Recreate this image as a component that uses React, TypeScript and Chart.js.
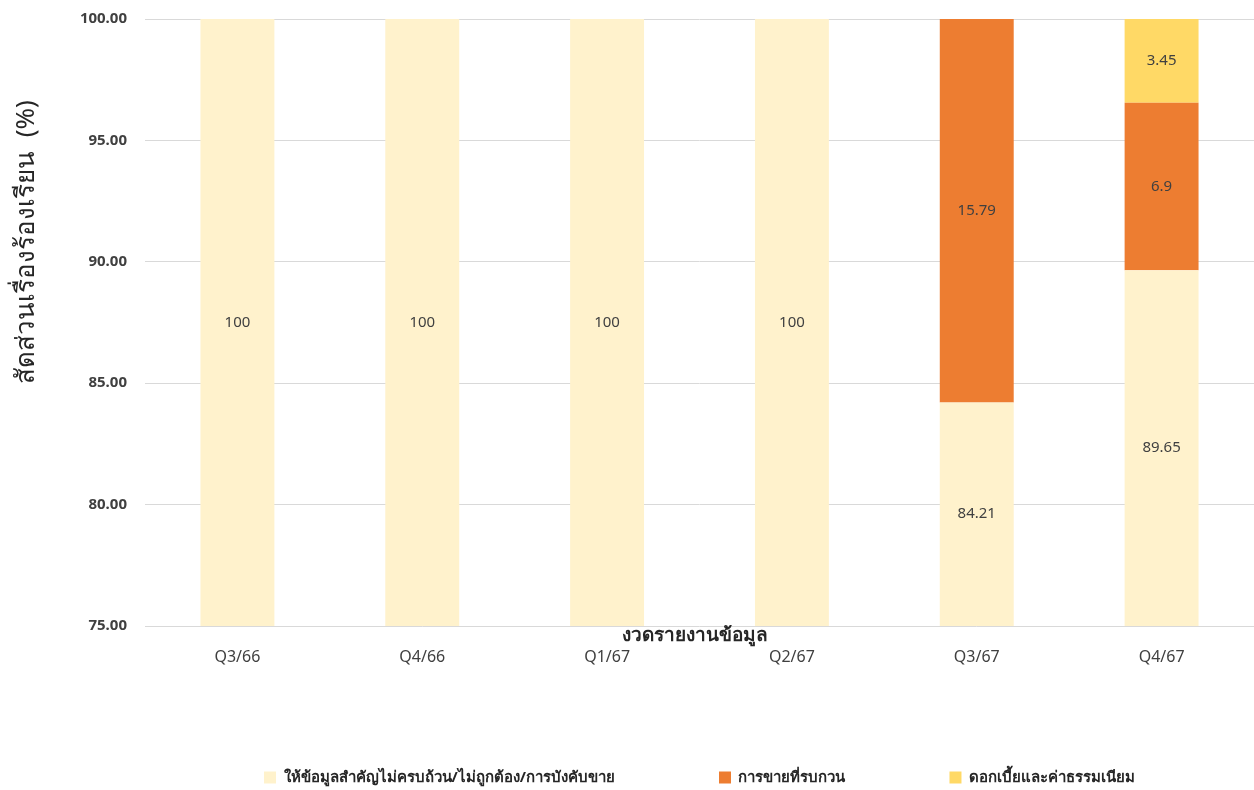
import React, { useEffect, useRef } from "react";
import { Chart, registerables } from "chart.js";
Chart.register(...registerables);

const categories = ["Q3/66", "Q4/66", "Q1/67", "Q2/67", "Q3/67", "Q4/67"];
const seriesNames = [
  "ให้ข้อมูลสำคัญไม่ครบถ้วน/ไม่ถูกต้อง/การบังคับขาย",
  "การขายที่รบกวน",
  "ดอกเบี้ยและค่าธรรมเนียม",
];
const incompleteInfo = [100, 100, 100, 100, 84.21, 89.65];
const disruptiveSales = [0, 0, 0, 0, 15.79, 6.9];
const interestFees = [0, 0, 0, 0, 0, 3.45];
const yMin = 75;
const yMax = 100;
const yStep = 5;
const yTitle = "สัดส่วนเรื่องร้องเรียน  (%)";
const xTitle = "งวดรายงานข้อมูล";

const FONT = "'Noto Sans', 'DejaVu Sans', sans-serif";

const labelPlugin = {
  id: "segLabels",
  afterDatasetsDraw(chart: any) {
    const ctx = chart.ctx;
    const area = chart.chartArea;
    ctx.save();
    ctx.font = `15px ${FONT}`;
    ctx.fillStyle = "#404040";
    ctx.textAlign = "center";
    ctx.textBaseline = "middle";
    chart.data.datasets.forEach((ds: any, di: number) => {
      const meta = chart.getDatasetMeta(di);
      meta.data.forEach((el: any, i: number) => {
        const v = ds.data[i];
        if (!v) return;
        const top = Math.max(area.top, Math.min(el.y, el.base));
        const bot = Math.min(area.bottom, Math.max(el.y, el.base));
        if (bot <= top) return;
        ctx.fillText(String(v), el.x, (top + bot) / 2);
      });
    });
    ctx.restore();
  },
};

const titlePlugin = {
  id: "axisTitles",
  afterDraw(chart: any) {
    const ctx = chart.ctx;
    ctx.save();
    ctx.fillStyle = "#262626";
    ctx.textAlign = "center";
    ctx.textBaseline = "middle";
    ctx.font = `26px ${FONT}`;
    ctx.translate(27, 242);
    ctx.rotate(-Math.PI / 2);
    ctx.fillText(yTitle, 0, 0);
    ctx.restore();
    ctx.save();
    ctx.fillStyle = "#262626";
    ctx.textAlign = "center";
    ctx.textBaseline = "middle";
    ctx.font = `bold 19px ${FONT}`;
    ctx.fillText(xTitle, 695, 636);
    ctx.restore();
  },
};

export default function App() {
  const ref = useRef<HTMLCanvasElement>(null);
  useEffect(() => {
    if (!ref.current) return;
    const chart = new Chart(ref.current, {
      type: "bar",
      data: {
        labels: categories,
        datasets: [
          { label: seriesNames[0], data: incompleteInfo, backgroundColor: "#FFF2CC", borderWidth: 0 },
          { label: seriesNames[1], data: disruptiveSales, backgroundColor: "#ED7D31", borderWidth: 0 },
          { label: seriesNames[2], data: interestFees, backgroundColor: "#FFD966", borderWidth: 0 },
        ],
      },
      options: {
        animation: false,
        responsive: true,
        maintainAspectRatio: false,
        layout: { padding: { top: 2, right: 0, left: 0, bottom: -5 } },
        datasets: { bar: { barPercentage: 0.4, categoryPercentage: 1 } },
        plugins: {
          legend: {
            position: "bottom",
            fullSize: false,
            labels: {
              boxWidth: 12,
              boxHeight: 12,
              padding: 104,
              color: "#262626",
              font: { family: FONT, size: 15, weight: "bold" },
            },
          },
          tooltip: { enabled: false },
        },
        scales: {
          x: {
            stacked: true,
            afterFit: (s: any) => {
              s.height = 40;
            },
            grid: { display: false, drawTicks: false },
            border: { display: false },
            ticks: { padding: 22, color: "#404040", font: { family: FONT, size: 16 } },
          },
          y: {
            stacked: true,
            min: yMin,
            max: yMax,
            afterFit: (s: any) => {
              s.width = 145;
            },
            grid: { color: "#D9D9D9", lineWidth: 1, drawTicks: true, tickLength: 8, tickColor: "rgba(0,0,0,0)" },
            border: { display: false },
            ticks: {
              stepSize: yStep,
              padding: 10,
              color: "#404040",
              font: { family: FONT, size: 15, weight: "bold" },
              callback: (v: any) => Number(v).toFixed(2),
            },
          },
        },
      },
      plugins: [labelPlugin, titlePlugin],
    });
    return () => chart.destroy();
  }, []);
  return (
    <div style={{ position: "fixed", left: 0, top: 0, width: 1254, height: 790, background: "#fff" }}>
      <canvas ref={ref} />
    </div>
  );
}
